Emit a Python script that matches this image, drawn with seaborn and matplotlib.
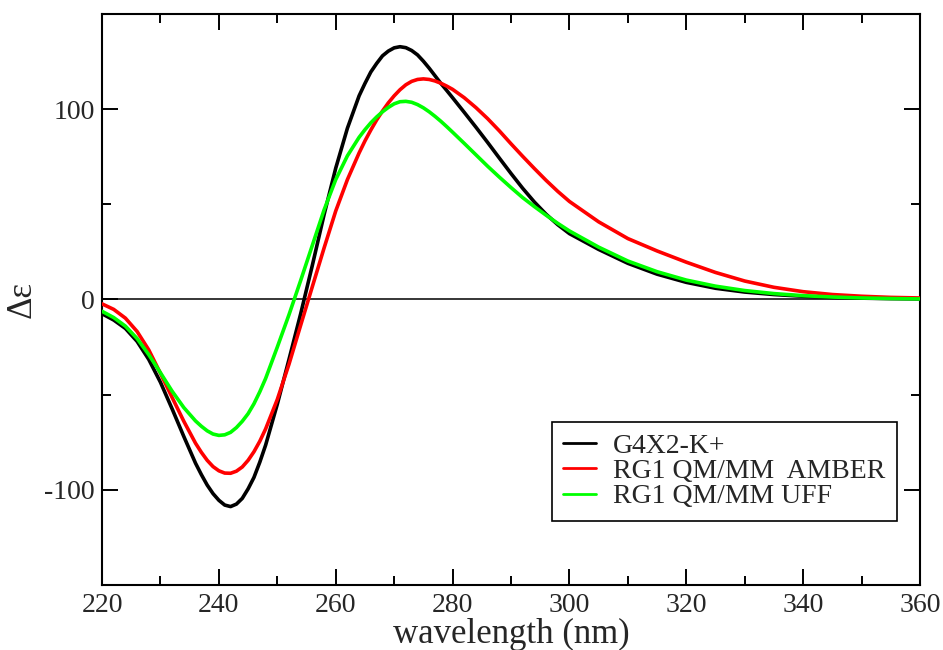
import pandas as pd
import matplotlib
matplotlib.use("Agg")
import matplotlib.pyplot as plt
from matplotlib.ticker import MultipleLocator
from matplotlib.lines import Line2D
import seaborn as sns

# Wavelength grid (nm): finer sampling around the band extrema
wavelength = [220, 222, 224, 226, 228, 230, 232, 234, 236,
              237, 238, 239, 240, 241, 242, 243, 244, 245, 246, 247, 248,
              250, 252, 254, 256, 258, 260, 262, 264,
              265, 266, 267, 268, 269, 270, 271, 272, 273, 274, 275, 276, 277, 278, 279, 280,
              282, 284, 286, 288, 290, 292, 294, 296, 298, 300,
              305, 310, 315, 320, 325, 330, 335, 340, 345, 350, 355, 360]

# CD spectra (delta epsilon)
g4x2_k = [-7.5, -10.8, -15.2, -22.0, -31.5, -43.5, -57.5, -72.0, -86.0,
          -92.0, -97.5, -102.0, -105.5, -108.0, -108.8, -107.5, -104.5, -99.5, -93.5, -85.5, -76.5,
          -55.0, -31.5, -7.5, 18.0, 44.5, 69.0, 90.0, 107.0,
          113.5, 119.5, 124.0, 128.0, 130.5, 132.2, 132.8, 132.3, 130.8, 128.5, 125.2, 121.5, 117.5, 113.5, 109.8, 106.0,
          98.3, 90.5, 82.5, 74.3, 66.2, 58.4, 51.2, 44.8, 39.3, 34.6,
          26.3, 19.0, 13.3, 9.0, 5.9, 3.9, 2.6, 1.7, 1.1, 0.7, 0.45, 0.3]

rg1_amber = [-2.3, -5.2, -9.8, -16.8, -26.5, -38.8, -51.5, -64.0, -75.5,
             -80.3, -84.5, -87.8, -90.0, -91.2, -91.3, -90.2, -88.0, -84.5, -80.0, -74.5, -68.0,
             -52.5, -34.0, -13.5, 6.8, 27.0, 46.5, 63.0, 77.0,
             83.3, 89.0, 94.3, 99.0, 103.3, 107.0, 110.2, 112.8, 114.6, 115.6, 115.9, 115.6, 114.8, 113.6, 112.1, 110.4,
             106.0, 100.8, 95.0, 88.6, 81.8, 75.2, 68.8, 62.6, 56.8, 51.5,
             40.8, 32.0, 25.5, 19.6, 14.2, 9.7, 6.4, 4.1, 2.6, 1.7, 1.1, 0.8]

rg1_uff = [-6.2, -9.5, -14.0, -20.5, -29.0, -38.5, -48.2, -56.8, -63.8,
           -66.6, -69.0, -70.7, -71.4, -71.1, -69.8, -67.3, -64.0, -60.0, -54.8, -48.5, -41.5,
           -25.0, -8.0, 10.0, 28.5, 47.0, 63.0, 75.5, 85.2,
           89.2, 92.8, 95.9, 98.6, 100.9, 102.8, 103.9, 104.1, 103.6, 102.4, 100.7, 98.6, 96.2, 93.6, 90.8, 87.9,
           82.0, 76.0, 70.0, 64.3, 58.8, 53.5, 48.8, 44.3, 40.0, 36.0,
           27.5, 20.2, 14.6, 10.2, 7.0, 4.7, 3.1, 2.0, 1.3, 0.8, 0.5, 0.3]

labels = ["G4X2-K+", "RG1 QM/MM  AMBER", "RG1 QM/MM UFF"]
colors = ["#000000", "#ff0000", "#00ff00"]

frames = []
for name, vals in zip(labels, [g4x2_k, rg1_amber, rg1_uff]):
    frames.append(pd.DataFrame({"wavelength": wavelength, "de": vals, "series": name}))
df = pd.concat(frames, ignore_index=True)

sns.set_style("ticks")
plt.rcParams["font.family"] = ["Liberation Serif", "DejaVu Serif"]
plt.rcParams["axes.unicode_minus"] = False

fig = plt.figure(figsize=(9.43, 6.5), dpi=100)
ax = fig.add_axes([0.1082, 0.10, 0.8674, 0.8785])

ax.axhline(0, color="black", lw=1.1, zorder=1)

sns.lineplot(data=df, x="wavelength", y="de", hue="series", hue_order=labels,
             palette=colors, lw=2.6, ax=ax, legend=False, sort=False, zorder=3,
             solid_joinstyle="round", solid_capstyle="round")

ax.set_xlim(220, 360)
ax.set_ylim(-150, 150)
ax.xaxis.set_major_locator(MultipleLocator(20))
ax.xaxis.set_minor_locator(MultipleLocator(10))
ax.yaxis.set_major_locator(MultipleLocator(100))
ax.yaxis.set_minor_locator(MultipleLocator(50))

for s in ax.spines.values():
    s.set_linewidth(1.5)
    s.set_color("black")

ax.tick_params(which="both", direction="in", top=True, right=True, width=1.4, color="black")
ax.tick_params(which="major", length=11.5)
ax.tick_params(which="minor", length=6.5)
ax.tick_params(axis="x", which="major", labelsize=20, pad=6)
ax.tick_params(axis="y", which="major", labelsize=20, pad=5)

ax.set_xlabel("wavelength (nm)", fontsize=25, labelpad=0)
ax.set_ylabel("Δε", fontsize=25, labelpad=4)

handles = [Line2D([], [], color=c, lw=2.0) for c in colors]
leg = ax.legend(handles, labels, loc="upper left", bbox_to_anchor=(0.550, 0.2855),
                fontsize=20, frameon=True, fancybox=False, shadow=False,
                borderpad=0.4, labelspacing=0.0, handlelength=1.2,
                handletextpad=0.6, borderaxespad=0.0)
leg.get_frame().set_edgecolor("black")
leg.get_frame().set_linewidth(1.2)
leg.get_frame().set_alpha(1.0)

fig.savefig("out.png", dpi=100)
